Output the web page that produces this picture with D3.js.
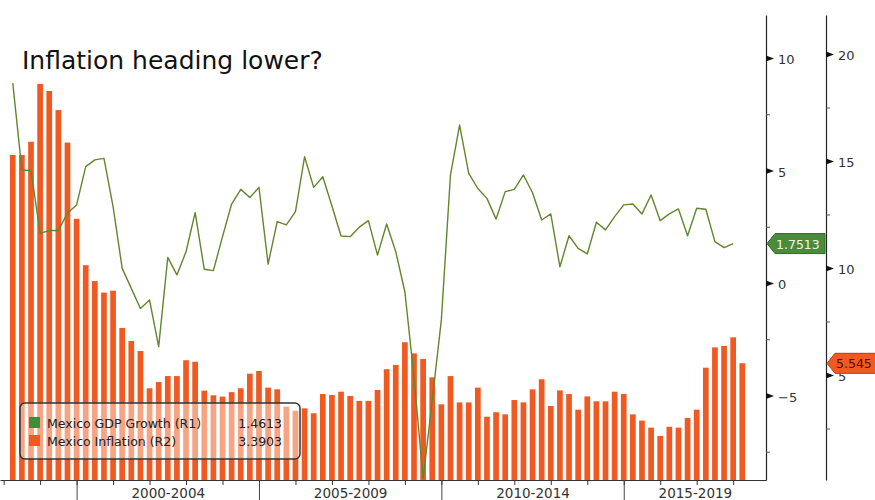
<!DOCTYPE html>
<html lang="en">
<head>
    <meta charset="UTF-8">
    <title>Inflation heading lower?</title>
    <style>
        body { margin: 0; background: #fff; }
        svg { display: block; font-family: "DejaVu Sans", sans-serif; }
    </style>
</head>
<body>
    <script src="https://cdn.jsdelivr.net/npm/d3@7"></script>
    <script>
        // quarterly data, 1998 Q1 .. 2018 Q1
        var startYear = 1998;
        var quarters = d3.range(81).map(function (i) {
            return (startYear + Math.floor(i / 4)) + ' Q' + (i % 4 + 1);
        });

        // Mexico GDP growth, y/y % (R1)
        var gdp = [8.88, 5.02, 5.0, 2.21, 2.33, 2.33, 3.11, 3.47, 5.17, 5.47,
            5.54, 3.39, 0.65, -0.24, -1.13, -0.76, -2.83, 1.14, 0.36, 1.39,
            3.13, 0.61, 0.55, 2.06, 3.51, 4.16, 3.8, 4.25, 0.84, 2.73,
            2.58, 3.17, 5.61, 4.25, 4.72, 3.42, 2.09, 2.06, 2.48, 2.77,
            1.24, 2.62, 1.39, -0.39, -4.2, -8.7, -5.2, -1.64, 4.8, 7.02,
            4.87, 4.2, 3.76, 2.84, 4.06, 4.16, 4.8, 4.01, 2.8, 3.07,
            0.72, 2.1, 1.54, 1.29, 2.7, 2.36, 2.95, 3.47, 3.51, 3.07,
            3.91, 2.77, 3.07, 3.29, 2.1, 3.32, 3.28, 1.84, 1.57, 1.75];

        // Mexico inflation, y/y % (R2)
        var inflation = [15.28, 15.28, 15.9, 18.6, 18.27, 17.38, 15.86, 12.3, 10.13, 9.39,
            8.85, 8.94, 7.2, 6.59, 6.12, 4.38, 4.67, 4.95, 4.95, 5.69,
            5.62, 4.27, 4.05, 3.99, 4.2, 4.38, 5.06, 5.19, 4.41, 4.33,
            3.52, 3.33, 3.44, 3.21, 4.11, 4.07, 4.22, 4.02, 3.79, 3.79,
            4.3, 5.27, 5.47, 6.53, 6.01, 5.75, 4.89, 3.63, 4.95, 3.72,
            3.72, 4.41, 3.05, 3.26, 3.16, 3.83, 3.72, 4.33, 4.8, 3.55,
            4.28, 4.11, 3.38, 4.0, 3.77, 3.77, 4.22, 4.11, 3.16, 2.87,
            2.54, 2.15, 2.58, 2.54, 2.99, 3.38, 5.34, 6.29, 6.36, 6.76, 5.55];

        var periodStarts = [2000, 2005, 2010, 2015];
        var periodLabels = ['2000-2004', '2005-2009', '2010-2014', '2015-2019'];
        var r1Ticks = [-5, 0, 5, 10];
        var r1Minor = [-7.5, -2.5, 2.5, 7.5];
        var r2Ticks = [5, 10, 15, 20];
        var r2Minor = [2.5, 7.5, 12.5, 17.5];

        var legendItems = [
            { name: 'Mexico GDP Growth (R1)', value: '1.4613', color: '#3f8f3a' },
            { name: 'Mexico Inflation (R2)', value: '3.3903', color: '#f05a22' }
        ];
        var lastGdp = '1.7513';
        var lastInflation = '5.545';

        //画布
        var W = 875, H = 500;
        var plotRight = 766, rightAxisX = 826, plotTop = 15, plotBottom = 480;
        var barColor = '#f05a22', lineColor = '#62862c';

        var svg = d3.select('body').append('svg').attr('width', W).attr('height', H);

        // quarter end as decimal year
        var qTime = function (q) {
            return +q.slice(0, 4) + (+q.slice(-1)) * 0.25;
        };

        var x = d3.scaleLinear().domain([1997.9, 2018.9]).range([0, plotRight]);
        var yL = d3.scaleLinear().domain([-8.756, 11.911]).range([plotBottom, plotTop]);
        var yR = d3.scaleLinear().domain([0.093, 21.822]).range([plotBottom, plotTop]);

        svg.append('clipPath').attr('id', 'plot')
            .append('rect').attr('x', 0).attr('y', plotTop)
            .attr('width', plotRight).attr('height', plotBottom - plotTop);

        var plot = svg.append('g').attr('clip-path', 'url(#plot)');

        // bars
        var bw = 5.7;
        plot.selectAll('rect.bar').data(inflation).enter().append('rect')
            .attr('class', 'bar')
            .attr('x', function (d, i) { return x(qTime(quarters[i])) - bw / 2; })
            .attr('y', function (d) { return yR(d); })
            .attr('width', bw)
            .attr('height', function (d) { return plotBottom - yR(d); })
            .attr('fill', barColor);

        // line
        var line = d3.line()
            .x(function (d, i) { return x(qTime(quarters[i])); })
            .y(function (d) { return yL(d); });
        plot.append('path').datum(gdp)
            .attr('d', line)
            .attr('fill', 'none')
            .attr('stroke', lineColor)
            .attr('stroke-width', 1.4)
            .attr('stroke-linejoin', 'round');

        // title
        svg.append('text').attr('x', 22).attr('y', 69)
            .attr('font-size', 25).attr('fill', '#111')
            .text('Inflation heading lower?');

        // x axis
        var xg = svg.append('g').attr('transform', 'translate(0,' + plotBottom + ')');
        xg.call(d3.axisBottom(x).tickValues(d3.range(1998, 2019)).tickSize(5).tickSizeOuter(0).tickFormat(''));
        xg.selectAll('.tick line').attr('stroke', '#333');
        xg.select('.domain').attr('stroke', '#333');

        var xg2 = svg.append('g').attr('transform', 'translate(0,' + plotBottom + ')');
        xg2.call(d3.axisBottom(x).tickValues(periodStarts).tickSize(20).tickFormat(''));
        xg2.select('.domain').remove();
        xg2.selectAll('.tick line').attr('stroke', '#444');

        var centers = periodStarts.map(function (s) {
            var d = x.domain();
            return (Math.max(s, d[0]) + Math.min(s + 5, d[1])) / 2;
        });
        var xg3 = svg.append('g').attr('transform', 'translate(0,' + plotBottom + ')');
        xg3.call(d3.axisBottom(x).tickValues(centers).tickSize(0).tickPadding(8)
            .tickFormat(function (d, i) { return periodLabels[i]; }));
        xg3.select('.domain').remove();
        xg3.selectAll('text').attr('font-size', 13.5).attr('fill', '#333').attr('font-family', 'DejaVu Sans');

        // right axes with triangle ticks
        var drawAxis = function (scale, ax, major, minor) {
            var g = svg.append('g').attr('transform', 'translate(' + ax + ',0)');
            g.call(d3.axisRight(scale).tickValues(major).tickSize(0).tickSizeOuter(0).tickPadding(12)
                .tickFormat(d3.format('d')));
            g.select('.domain').attr('stroke', '#222').attr('stroke-width', 1.2);
            g.selectAll('.tick text').attr('font-size', 13).attr('fill', '#333')
                .attr('font-family', 'DejaVu Sans').attr('dy', '0.45em');
            g.selectAll('.tick').append('path')
                .attr('d', 'M0,-3L8,0L0,3Z').attr('fill', '#111');
            var m = svg.append('g').attr('transform', 'translate(' + ax + ',0)');
            m.call(d3.axisRight(scale).tickValues(minor).tickSize(4).tickFormat(''));
            m.select('.domain').remove();
            m.selectAll('.tick line').attr('stroke', '#555');
        };
        drawAxis(yL, plotRight, r1Ticks, r1Minor);
        drawAxis(yR, rightAxisX, r2Ticks, r2Minor);

        // value tags
        var tag = function (ax, y, w, fill, stroke, textColor, label) {
            var h = 20;
            svg.append('path')
                .attr('d', 'M' + ax + ',' + y + 'l8,' + (-h / 2) + 'h' + (w - 8) + 'v' + h + 'h' + (8 - w) + 'Z')
                .attr('fill', fill).attr('stroke', stroke).attr('stroke-width', 1);
            svg.append('text').attr('x', ax + 9).attr('y', y + 5)
                .attr('font-size', 12.5).attr('fill', textColor).text(label);
        };
        tag(plotRight + 1, yL(+lastGdp), 58, '#4b8b3b', '#2f6a25', '#eef8e6', lastGdp);
        tag(rightAxisX + 1, yR(+lastInflation), 52, '#f05a22', '#b83a10', '#4a1200', lastInflation);

        // legend
        var lg = svg.append('g').attr('transform', 'translate(20,403)');
        lg.append('rect').attr('width', 280).attr('height', 56).attr('rx', 5)
            .attr('fill', 'rgba(255,255,255,0.45)').attr('stroke', '#333').attr('stroke-width', 1.5);
        var li = lg.selectAll('g.item').data(legendItems).enter().append('g')
            .attr('transform', function (d, i) { return 'translate(0,' + (14 + i * 18) + ')'; });
        li.append('rect').attr('x', 9).attr('y', 0).attr('width', 11).attr('height', 11)
            .attr('fill', function (d) { return d.color; });
        li.append('text').attr('x', 27).attr('y', 10.5).attr('font-size', 12.5).attr('fill', '#222')
            .text(function (d) { return d.name; });
        li.append('text').attr('x', 262).attr('y', 10.5).attr('font-size', 12.5).attr('fill', '#222')
            .attr('text-anchor', 'end')
            .text(function (d) { return d.value; });
    </script>
</body>
</html>
